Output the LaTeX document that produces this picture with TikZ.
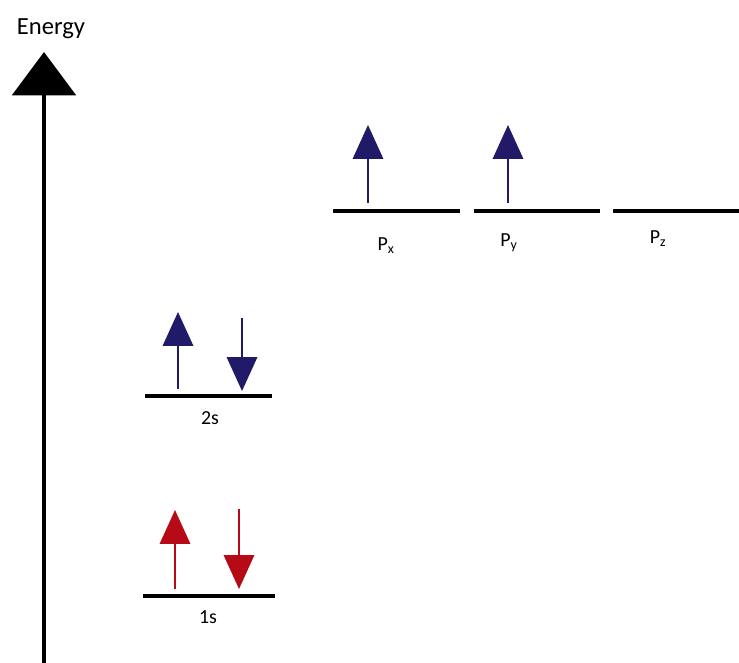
\documentclass[tikz,border=0pt]{standalone}
\usepackage{fontspec}
\setmainfont{Carlito}
\usepackage{tikz}
\usetikzlibrary{positioning,arrows.meta}
\definecolor{spinblue}{RGB}{40,32,130}
\definecolor{spinred}{RGB}{228,12,28}

\begin{document}
\begin{tikzpicture}[
x=0.03cm, y=-0.03cm,
level/.style={line width=2.6pt},
lbl/.style={font=\fontsize{17}{19}\selectfont, inner sep=1pt},
spin/.style={line width=1.7pt, -{Triangle[length=29pt,width=26pt]}},
blue spin/.style={spin, draw=spinblue!80!black, fill=spinblue},
red spin/.style={spin, draw=spinred!80!black, fill=spinred},
axis/.style={line width=4.2pt, -{Triangle[length=37pt,width=54pt]}}
]
\useasboundingbox (0,0) rectangle (739,662);

% energy axis
\coordinate (base) at (44,664);
\coordinate (top) at (44,52);
\draw[axis] (base) -- (top);
\node[font=\fontsize{21}{24}\selectfont, inner sep=0pt] (energy) at (51,29) {Energy};

% 1s
\coordinate (s1a) at (143,596);
\coordinate (s1b) at (275,596);
\draw[level] (s1a) -- (s1b);
\node[lbl] (l1s) at (208,617) {1s};
\coordinate (u1a) at (175,589);
\coordinate (u1b) at (175,510);
\coordinate (d1a) at (239,509);
\coordinate (d1b) at (239,589);
\draw[red spin] (u1a) -- (u1b);
\draw[red spin] (d1a) -- (d1b);

% 2s
\coordinate (s2a) at (145,396);
\coordinate (s2b) at (272,396);
\draw[level] (s2a) -- (s2b);
\node[lbl] (l2s) at (210,418) {2s};
\coordinate (u2a) at (178,389);
\coordinate (u2b) at (178,312);
\coordinate (d2a) at (242,318);
\coordinate (d2b) at (242,391);
\draw[blue spin] (u2a) -- (u2b);
\draw[blue spin] (d2a) -- (d2b);

% 2p
\coordinate (pxa) at (333,211);
\coordinate (pxb) at (460,211);
\coordinate (pya) at (474,211);
\coordinate (pyb) at (600,211);
\coordinate (pza) at (613,211);
\coordinate (pzb) at (739,211);
\draw[level] (pxa) -- (pxb);
\draw[level] (pya) -- (pyb);
\draw[level] (pza) -- (pzb);
\node[lbl] (lpx) at (386,246) {P\textsubscript{x}};
\node[lbl] (lpy) at (509,243) {P\textsubscript{y}};
\node[lbl] (lpz) at (658,239) {P\textsubscript{z}};
\coordinate (uxa) at (368,203);
\coordinate (uxb) at (368,125);
\coordinate (uya) at (508,203);
\coordinate (uyb) at (508,125);
\draw[blue spin] (uxa) -- (uxb);
\draw[blue spin] (uya) -- (uyb);
\end{tikzpicture}
\end{document}
